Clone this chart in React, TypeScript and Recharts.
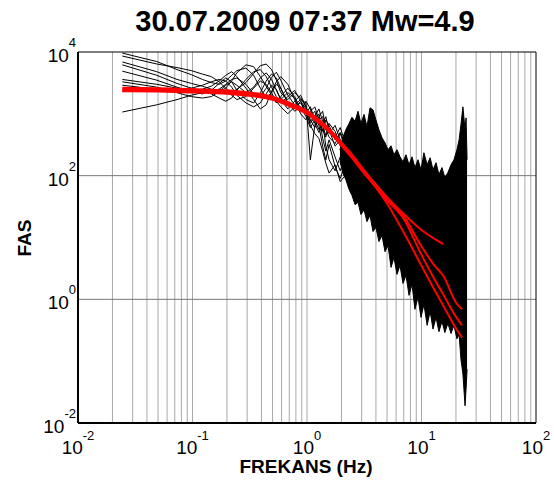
import React from "react";
import {
  ComposedChart,
  Line,
  Area,
  XAxis,
  YAxis,
  CartesianGrid,
  ReferenceLine,
} from "recharts";

const FONT = '"Liberation Sans", Arial, Helvetica, sans-serif';

// axis ticks (log axes)
const X_TICKS = [0.01, 0.1, 1, 10, 100];
const X_TICK_EXP = ["-2", "-1", "0", "1", "2"];
const Y_TICKS = [0.01, 1, 100, 10000];
const Y_TICK_EXP = ["-2", "0", "2", "4"];
const GRID_X = [
  0.02, 0.03, 0.04, 0.05, 0.06, 0.07, 0.08, 0.09, 0.1,
  0.2, 0.3, 0.4, 0.5, 0.6, 0.7, 0.8, 0.9, 1,
  2, 3, 4, 5, 6, 7, 8, 9, 10,
  20, 30, 40, 50, 60, 70, 80, 90,
];
const GRID_Y = [1, 100];

// individual station spectra, low-frequency part (Hz)
const FREQ = [
  0.0244, 0.0488, 0.0732, 0.0977, 0.122, 0.146, 0.171, 0.195, 0.22, 0.244,
  0.293, 0.342, 0.391, 0.44, 0.49, 0.54, 0.59, 0.68, 0.78, 0.88,
  0.98, 1.07, 1.17, 1.27, 1.37, 1.46, 1.56, 1.76, 1.95, 2.15,
  2.34, 2.54, 2.73, 2.93, 3.22, 3.52, 3.81, 4.1,
];
const S1 = [9600, 7000, 5200, 4300, 3600, 3200, 3000, 3400, 4200, 5000, 5500, 4200, 2600, 1800, 2200, 3000, 2600, 1500, 1100, 1300, 900, 600, 800, 1000, 400, 250, 380, 200, 120, 200, 250, 300, 180, 240, 150, 200, 120, 90];
const S2 = [8600, 6400, 5600, 5000, 4400, 4000, 3300, 2600, 2200, 2500, 3200, 4500, 6000, 6400, 5200, 3500, 2200, 1700, 2200, 1800, 1300, 900, 1100, 700, 520, 800, 650, 380, 500, 330, 260, 380, 220, 170, 230, 140, 110, 150];
const S3 = [6900, 4800, 3600, 3100, 2800, 2500, 2300, 2600, 3400, 4600, 6200, 5800, 4000, 2800, 2000, 1500, 1900, 2600, 1900, 1200, 1000, 1300, 800, 560, 700, 900, 520, 420, 600, 350, 300, 220, 320, 200, 150, 190, 130, 100];
const S4 = [6200, 4200, 3100, 2600, 2300, 2200, 2500, 3000, 3600, 3800, 3000, 2100, 1900, 2600, 3900, 4700, 3500, 2000, 1400, 1700, 1500, 180, 650, 900, 1100, 600, 480, 650, 380, 280, 420, 260, 190, 280, 160, 120, 170, 100];
const S5 = [4900, 3500, 2700, 2300, 2100, 2400, 3100, 3800, 3300, 2400, 1700, 1500, 2200, 3400, 4400, 3800, 2600, 1500, 1200, 1600, 1200, 750, 950, 650, 300, 180, 320, 140, 90, 150, 380, 200, 260, 160, 210, 130, 160, 95];
const S6 = [3600, 3000, 2600, 2400, 2500, 2800, 3400, 4200, 4800, 4000, 2600, 1700, 1200, 1400, 2300, 3300, 4000, 3000, 1700, 1000, 800, 1100, 1300, 800, 550, 420, 700, 520, 300, 380, 250, 320, 200, 140, 200, 120, 95, 130];
const S7 = [2900, 2500, 2300, 2200, 2300, 2100, 1800, 1600, 1800, 2400, 3600, 4800, 5200, 4000, 2700, 1900, 1500, 1900, 2400, 1600, 1000, 700, 900, 1200, 750, 300, 180, 120, 200, 110, 330, 220, 300, 170, 130, 180, 110, 80];
const S8 = [2300, 2300, 2400, 2600, 2900, 3300, 3600, 3400, 2700, 2000, 1500, 1300, 1500, 2100, 2900, 2500, 1700, 1200, 1600, 2000, 1300, 800, 600, 800, 900, 560, 420, 330, 480, 300, 220, 290, 180, 230, 130, 170, 100, 130];
const S9 = [1070, 1400, 1700, 2000, 2200, 2400, 2500, 2300, 2000, 1700, 1900, 2600, 3400, 3000, 2200, 1600, 1300, 1000, 1300, 1500, 1100, 650, 480, 400, 250, 160, 110, 150, 80, 100, 310, 190, 240, 150, 180, 110, 140, 90];
const S10 = [3300, 2700, 2200, 1900, 1800, 1900, 2300, 2900, 3300, 2900, 2200, 2700, 3800, 4600, 3600, 2400, 1700, 2200, 1800, 1100, 1600, 1200, 700, 500, 650, 450, 550, 300, 380, 260, 200, 270, 170, 210, 140, 110, 150, 100];
const SPECTRA = [S1, S2, S3, S4, S5, S6, S7, S8, S9, S10];

// dense high-frequency part of the spectra: lower / upper envelope
const BAND_F = [1.94, 2.06, 2.19, 2.33, 2.47, 2.63, 2.79, 2.96, 3.15, 3.34, 3.55, 3.77, 4.0, 4.25, 4.52, 4.8, 5.1, 5.42, 5.75, 6.11, 6.49, 6.89, 7.32, 7.78, 8.26, 8.77, 9.32, 9.9, 10.5, 11.2, 11.9, 12.6, 13.4, 14.2, 15.1, 16.0, 17.0, 18.1, 19.2, 20.4, 21.3, 22.1, 23.0, 24.0, 24.5, 25.0];
const BAND_HI = [260, 420, 560, 700, 880, 760, 1100, 700, 980, 620, 1250, 1161, 800, 552, 410, 340, 263, 305, 218, 263, 202, 168, 218, 150, 202, 135, 181, 125, 235, 150, 195, 125, 162, 104, 135, 93, 112, 150, 181, 263, 381, 665, 1297, 552, 861, 181, 41];
const BAND_LO = [170, 110, 85, 60, 48, 34, 37, 23.5, 28, 18.1, 22.6, 12.5, 14.5, 8.6, 10.8, 5.9, 7.4, 3.28, 4.75, 2.53, 3.53, 1.81, 2.44, 1.16, 1.75, 0.69, 1.08, 0.51, 0.83, 0.38, 0.64, 0.33, 0.51, 0.3, 0.44, 0.29, 0.41, 0.28, 0.38, 0.23, 0.27, 0.108, 0.062, 0.019, 0.035, 0.074];

// source model fits (red)
const RED_F = [0.0244, 0.05, 0.1, 0.2, 0.3, 0.5, 0.7, 1, 1.3, 1.6, 2, 2.5, 3, 4, 5, 7, 10, 13, 15.5, 20, 22.6];
const FIT_A = [2630, 2600, 2510, 2400, 2240, 1900, 1510, 1120, 780, 550, 345, 215, 138, 72, 45, 24, 13.2, 9.5, 7.8, null, null];
const FIT_B = [2512, 2483, 2399, 2291, 2138, 1820, 1445, 1072, 741, 525, 331, 204, 132, 69, 42, 21.9, 7.2, 3.5, 2.4, 0.89, 0.69];
const FIT_C = [2400, 2370, 2290, 2190, 2040, 1740, 1380, 1020, 708, 500, 316, 195, 126, 66, 40, 20, 5.2, 2.1, 1.2, 0.52, 0.38];
const FIT_D = [2320, 2290, 2215, 2115, 1970, 1680, 1335, 990, 684, 485, 305, 188, 122, 64, 35.5, 12, 3.5, 1.41, 0.79, 0.34, 0.24];
const FITS = [FIT_A, FIT_B, FIT_C, FIT_D];

const spectraData = SPECTRA.map((s) => FREQ.map((f, i) => ({ f, a: s[i] })));
const bandData = BAND_F.map((f, i) => ({ f, range: [BAND_LO[i], BAND_HI[i]] }));
const fitData = FITS.map((s) =>
  RED_F.map((f, i) => ({ f, a: s[i] })).filter((d) => d.a !== null)
);

const XTick = (props: any) => {
  const { x, y, index } = props;
  return (
    <text x={x} y={y + 31} textAnchor="middle" fontFamily={FONT} fontSize={19} fill="#000">
      <tspan>10</tspan>
      <tspan dy={-14} fontSize={13}>{X_TICK_EXP[index]}</tspan>
    </text>
  );
};

const YTick = (props: any) => {
  const { x, y, index } = props;
  return (
    <text x={x - 2} y={y + 10} textAnchor="end" fontFamily={FONT} fontSize={19} fill="#000">
      <tspan>10</tspan>
      <tspan dy={-15} fontSize={13}>{Y_TICK_EXP[index]}</tspan>
    </text>
  );
};

export default function App() {
  return (
    <div
      style={{
        position: "absolute",
        left: 0,
        top: 0,
        width: 554,
        height: 483,
        background: "#fff",
        fontFamily: FONT,
      }}
    >
      <ComposedChart width={554} height={483} margin={{ top: 52, right: 18, bottom: 0, left: 0 }}>
        <CartesianGrid horizontal={false} verticalValues={GRID_X} stroke="#a8a8a8" strokeWidth={1} />
        <CartesianGrid vertical={false} horizontalValues={GRID_Y} stroke="#777" strokeWidth={1} />
        <XAxis
          dataKey="f"
          type="number"
          scale="log"
          domain={[0.01, 100]}
          allowDataOverflow
          ticks={X_TICKS}
          tick={<XTick />}
          tickSize={0}
          tickMargin={0}
          tickLine={false}
          axisLine={{ stroke: "#000", strokeWidth: 2 }}
          height={60}
          interval={0}
        />
        <YAxis
          type="number"
          scale="log"
          domain={[0.01, 10000]}
          allowDataOverflow
          ticks={Y_TICKS}
          tick={<YTick />}
          tickSize={0}
          tickMargin={0}
          tickLine={false}
          axisLine={{ stroke: "#000", strokeWidth: 2 }}
          width={78}
          interval={0}
        />
        <ReferenceLine y={10000} stroke="#000" strokeWidth={1} />
        <ReferenceLine x={100} stroke="#000" strokeWidth={1} />
        <Area
          data={bandData}
          dataKey="range"
          type="linear"
          stroke="#000"
          strokeWidth={1}
          fill="#000"
          fillOpacity={1}
          isAnimationActive={false}
        />
        {spectraData.map((d, k) => (
          <Line
            key={`s${k}`}
            data={d}
            dataKey="a"
            type="linear"
            stroke="#000"
            strokeWidth={1}
            dot={false}
            isAnimationActive={false}
          />
        ))}
        {fitData.map((d, k) => (
          <Line
            key={`fit${k}`}
            data={d}
            dataKey="a"
            type="monotone"
            stroke="#ff0000"
            strokeWidth={2}
            dot={false}
            isAnimationActive={false}
          />
        ))}
      </ComposedChart>
      <div
        style={{
          position: "absolute",
          left: 0,
          width: 610,
          top: 7,
          textAlign: "center",
          fontSize: 29,
          lineHeight: "29px",
          fontWeight: "bold",
        }}
      >
        30.07.2009 07:37 Mw=4.9
      </div>
      <div
        style={{
          position: "absolute",
          left: 0,
          width: 612,
          top: 457,
          textAlign: "center",
          fontSize: 19,
          lineHeight: "19px",
          fontWeight: "bold",
        }}
      >
        FREKANS (Hz)
      </div>
      <div
        style={{
          position: "absolute",
          left: -25,
          width: 100,
          top: 228,
          height: 20,
          textAlign: "center",
          fontSize: 19,
          lineHeight: "20px",
          fontWeight: "bold",
          transform: "rotate(-90deg)",
        }}
      >
        FAS
      </div>
    </div>
  );
}
